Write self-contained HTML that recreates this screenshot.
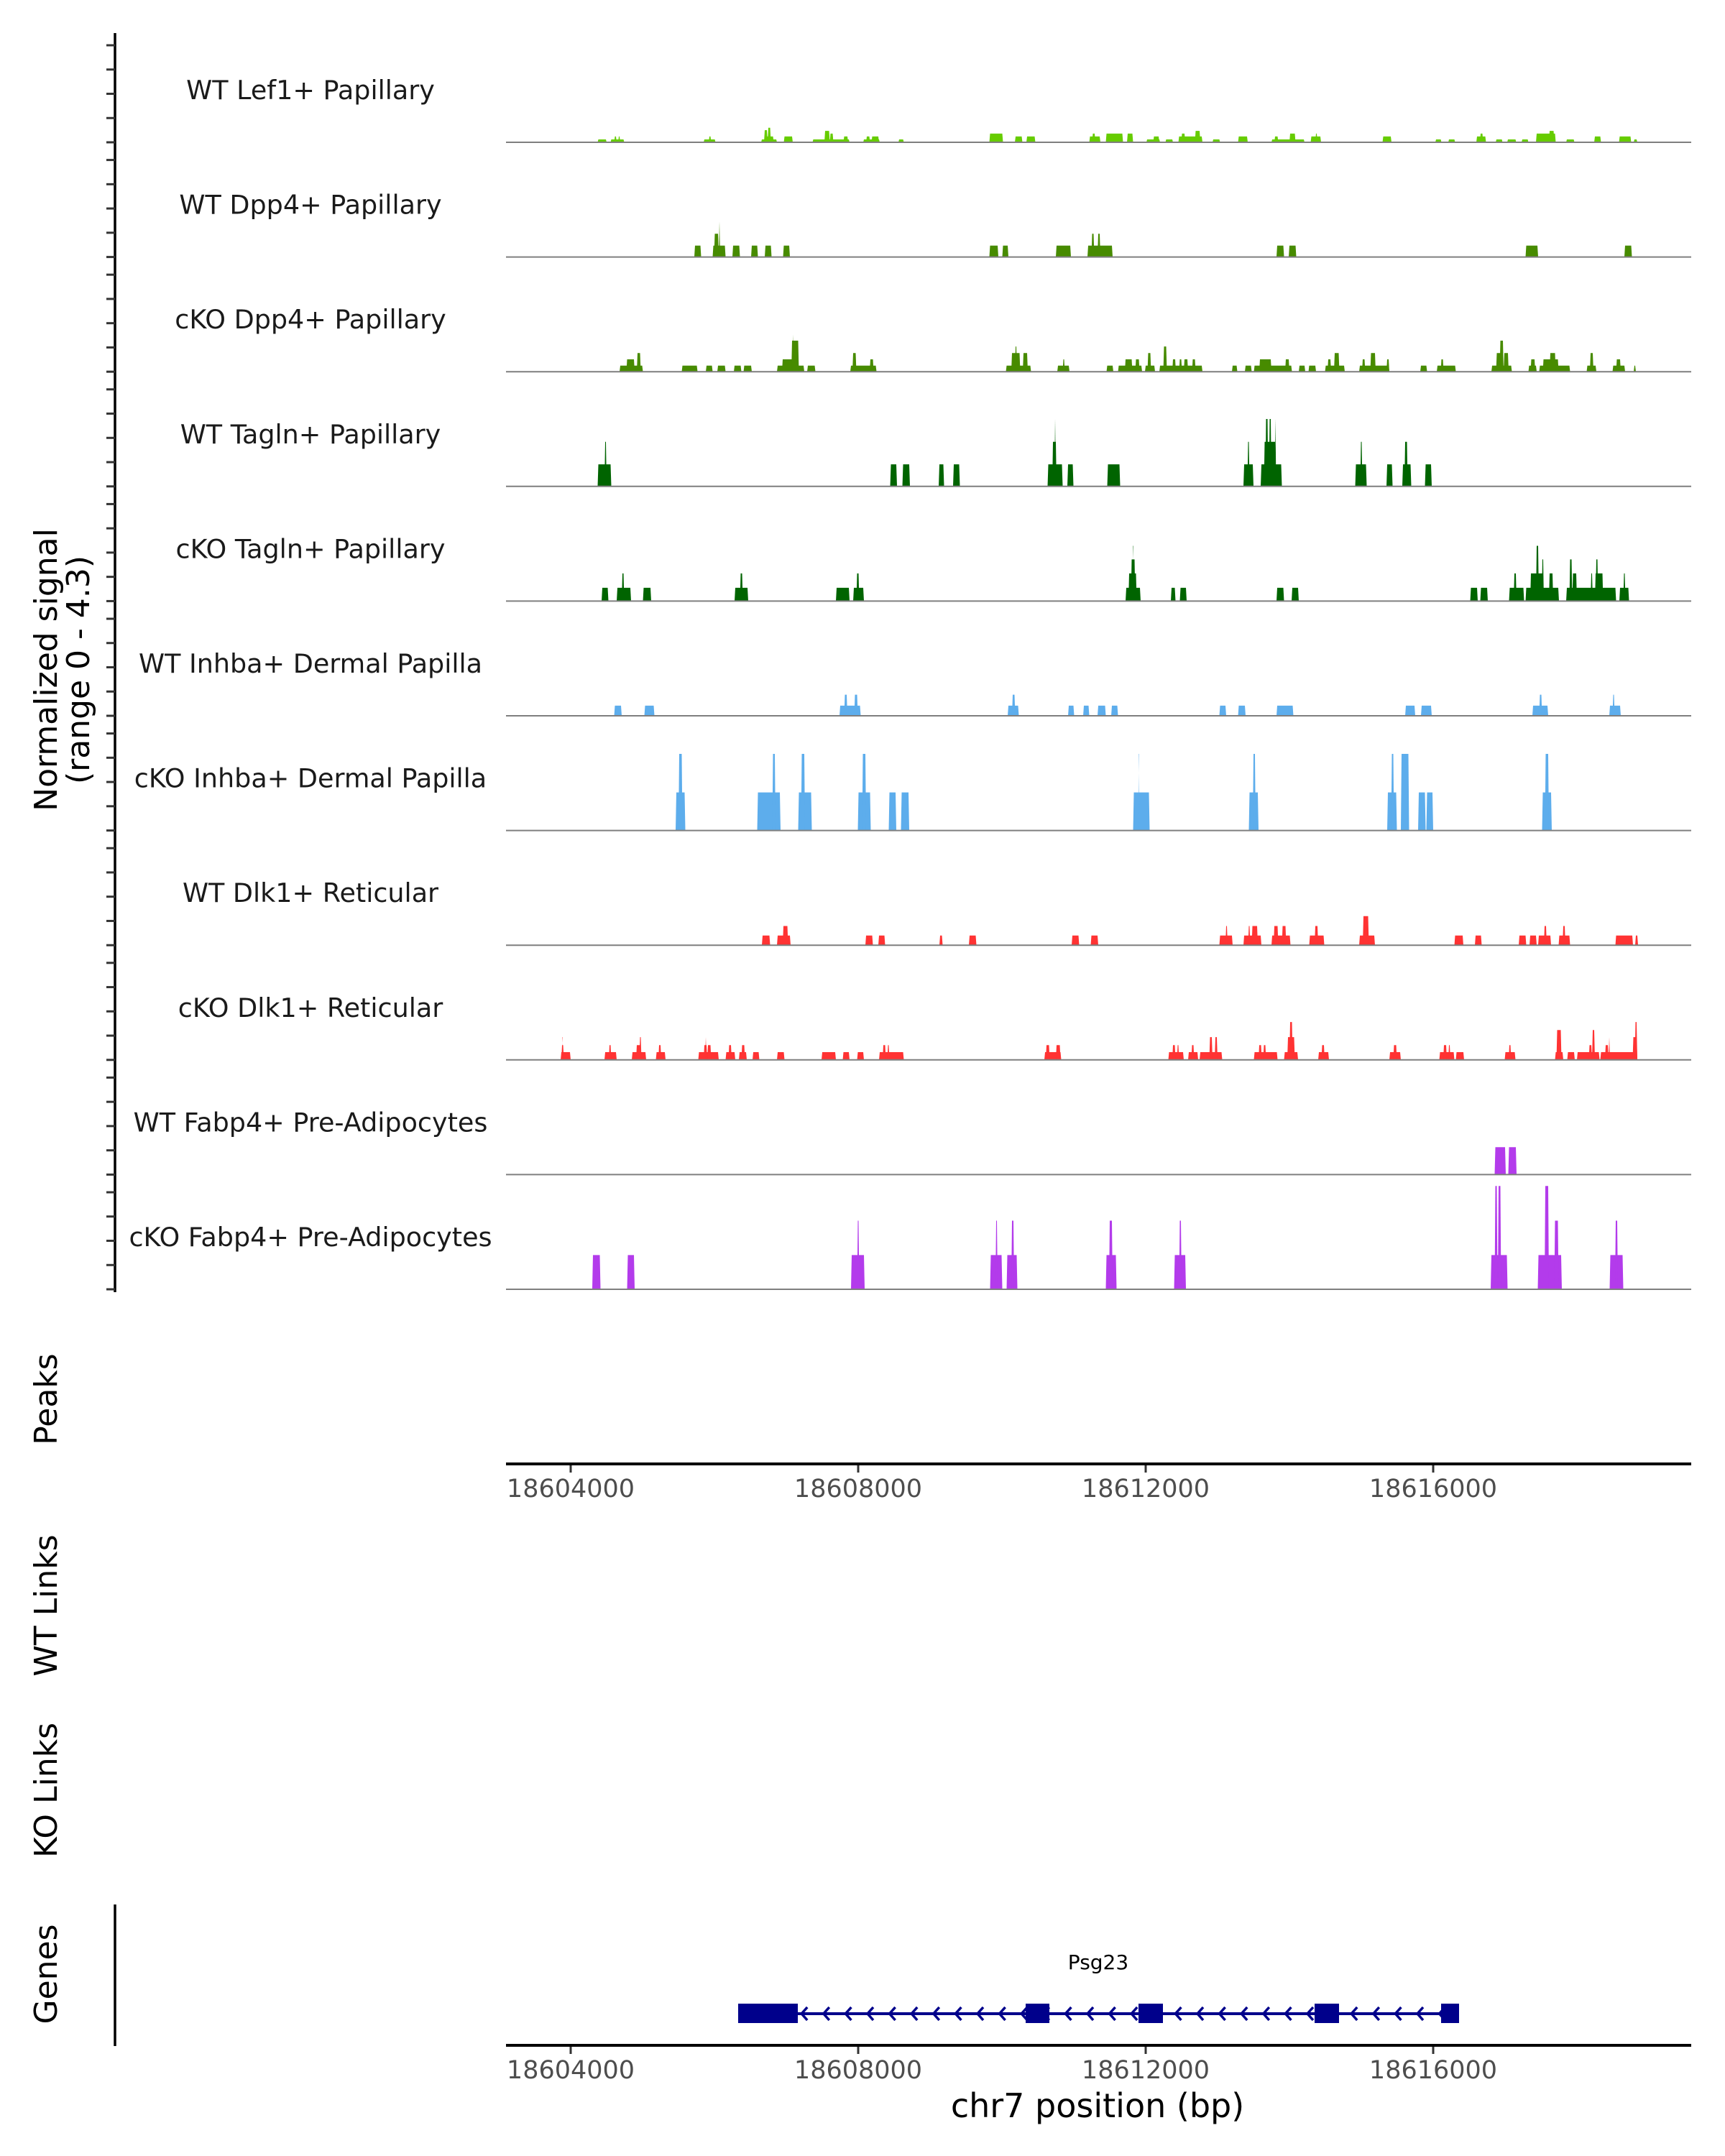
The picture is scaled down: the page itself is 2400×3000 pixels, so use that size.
<!DOCTYPE html>
<html><head><meta charset="utf-8">
<style>
html,body{margin:0;padding:0;background:#fff;}
svg{display:block;font-family:"DejaVu Sans","Liberation Sans",sans-serif;}
</style></head>
<body>
<svg id="chart" xmlns="http://www.w3.org/2000/svg" width="2400" height="3000" viewBox="0 0 2400 3000">
<rect width="2400" height="3000" fill="#fff"/>
<g id="tracks"></g>
<g id="yaxis">
  <line x1="160" y1="46" x2="160" y2="1798" stroke="#000" stroke-width="3.5"/>
</g>
<text transform="translate(79,932) rotate(-90)" text-anchor="middle" font-size="44" fill="#000">Normalized signal</text>
<text transform="translate(124,932) rotate(-90)" text-anchor="middle" font-size="44" fill="#000">(range 0 - 4.3)</text>
<text transform="translate(79,1947) rotate(-90)" text-anchor="middle" font-size="44" fill="#000">Peaks</text>
<text transform="translate(79,2234) rotate(-90)" text-anchor="middle" font-size="44" fill="#000">WT Links</text>
<text transform="translate(79,2491) rotate(-90)" text-anchor="middle" font-size="44" fill="#000">KO Links</text>
<text transform="translate(79,2747) rotate(-90)" text-anchor="middle" font-size="44" fill="#000">Genes</text>
<line x1="160" y1="2650" x2="160" y2="2847" stroke="#000" stroke-width="3.5"/>
<g id="xaxis1"></g>
<g id="xaxis2"></g>
<g id="gene"></g>
<text x="1527" y="2946" text-anchor="middle" font-size="46" fill="#000">chr7 position (bp)</text>
</svg>
<script>
// ---- data (bp positions, normalized signal) ----
const xTicks = [18604000, 18608000, 18612000, 18616000];
const xTickLabels = ["18604000","18608000","18612000","18616000"];
const trackNames = ["WT Lef1+ Papillary","WT Dpp4+ Papillary","cKO Dpp4+ Papillary","WT Tagln+ Papillary","cKO Tagln+ Papillary","WT Inhba+ Dermal Papilla","cKO Inhba+ Dermal Papilla","WT Dlk1+ Reticular","cKO Dlk1+ Reticular","WT Fabp4+ Pre-Adipocytes","cKO Fabp4+ Pre-Adipocytes"];
const trackColors = ["#66cc00","#478b00","#478b00","#006400","#006400","#5dadec","#5dadec","#ff3333","#ff3333","#b33beb","#b33beb"];
const yTicks = [0,1,2,3,4];
// each segment: [start offset from 18600000, end offset, value]
const sigLef1WT = [[4375,4500,.12],[4555,4745,.12],[4605,4640,.24],[4660,4690,.24],[5850,6015,.12],[5920,5955,.24],[6650,6870,.12],[6690,6825,.24],[6690,6740,.5],[6740,6785,.6],[6965,7090,.24],[7365,7880,.12],[7530,7605,.47],[7605,7655,.36],[7795,7860,.24],[8070,8300,.12],[8110,8165,.24],[8185,8290,.24],[8560,8635,.12],[9825,10015,.36],[10180,10285,.24],[10340,10465,.24],[11215,11370,.24],[11255,11300,.36],[11445,11685,.36],[11740,11825,.36],[12010,12200,.12],[12105,12190,.24],[12275,12380,.12],[12455,12790,.24],[12495,12550,.36],[12685,12760,.47],[12930,13035,.12],[13285,13420,.24],[13750,14210,.12],[13790,13845,.24],[14000,14085,.36],[14295,14440,.24],[14360,14390,.36],[15295,15420,.24],[16030,16115,.12],[16210,16305,.12],[16600,16735,.24],[16650,16695,.36],[16870,16965,.12],[17030,17155,.12],[17230,17325,.12],[17430,17705,.36],[17610,17685,.47],[17850,17965,.12],[18240,18335,.24],[18585,18755,.24],[18790,18840,.12]];
const sigDpp4WT = [[5720,5815,.47],[5975,6155,.47],[5995,6060,.96],[6060,6080,1.45],[6250,6355,.47],[6510,6605,.47],[6700,6795,.47],[6955,7050,.47],[9825,9950,.47],[10005,10090,.47],[10750,10960,.47],[11190,11540,.47],[11245,11285,.96],[11330,11370,.96],[13820,13925,.47],[13990,14095,.47],[17285,17460,.47],[18660,18765,.47]];
const sigDpp4KO = [[4680,5005,.25],[4775,4890,.51],[4920,4975,.77],[5545,5765,.25],[5880,5975,.25],[6040,6155,.25],[6270,6375,.25],[6405,6520,.25],[6870,7250,.25],[6940,7165,.51],[7070,7175,1.28],[7085,7105,1.53],[7290,7405,.25],[7890,8255,.25],[7920,7975,.77],[8160,8215,.51],[10055,10405,.25],[10130,10255,.77],[10180,10210,1.04],[10290,10360,.77],[10770,10940,.25],[10845,10875,.51],[11455,11550,.25],[11615,11950,.25],[11710,11815,.51],[11855,11915,.51],[11990,12130,.25],[12025,12075,.77],[12190,12790,.25],[12245,12295,1.04],[12370,12420,.51],[12465,12505,.51],[12530,12590,.51],[12645,12695,.51],[13200,13275,.25],[13380,13475,.25],[13505,14035,.25],[13580,13750,.51],[13940,14000,.51],[14130,14220,.25],[14265,14370,.25],[14495,14770,.25],[14530,14580,.51],[14620,14695,.77],[14970,15390,.25],[15010,15055,.51],[15125,15200,.77],[15350,15390,.51],[15820,15915,.25],[16050,16315,.25],[16105,16145,.51],[16810,17095,.25],[16875,16950,.77],[16925,16980,1.28],[16980,17050,.77],[17325,17440,.25],[17355,17420,.51],[17475,17905,.25],[17525,17745,.51],[17620,17705,.77],[18135,18270,.25],[18180,18230,.77],[18495,18670,.25],[18545,18610,.51],[18790,18820,.25]];
const sigTaglnWT = [[4375,4565,.91],[4470,4500,1.84],[8445,8540,.91],[8615,8720,.91],[9120,9195,.91],[9320,9415,.91],[10635,10845,.91],[10700,10760,1.84],[10730,10750,2.78],[10910,10995,.91],[11465,11645,.91],[13360,13500,.91],[13415,13445,1.84],[13600,13895,.91],[13645,13810,1.84],[13665,13705,2.78],[13715,13750,2.78],[13795,13815,2.78],[14915,15075,.91],[14985,15015,1.84],[15350,15435,.91],[15570,15695,.91],[15600,15645,1.84],[15885,15980,.91]];
const sigTaglnKO = [[4430,4525,.55],[4640,4840,.55],[4710,4745,1.14],[5005,5120,.55],[6280,6470,.55],[6355,6395,1.14],[7690,7880,.55],[7930,8080,.55],[7975,8015,1.14],[11720,11930,.55],[11760,11875,1.14],[11795,11855,1.72],[11815,11830,2.28],[12350,12415,.55],[12475,12570,.55],[13820,13925,.55],[14030,14130,.55],[16515,16620,.55],[16655,16760,.55],[17055,17265,.55],[17120,17160,1.14],[17285,17750,.55],[17350,17540,1.14],[17430,17470,2.28],[17510,17540,1.72],[17610,17670,1.14],[17850,18545,.55],[17895,17935,1.72],[17935,18000,1.14],[18190,18220,1.14],[18250,18365,1.14],[18260,18295,1.72],[18590,18725,.55],[18645,18675,1.14]];
const sigInhbaWT = [[4605,4710,.42],[5025,5165,.42],[7740,8035,.42],[7805,7850,.87],[7945,7995,.87],[10080,10235,.42],[10140,10185,.87],[10920,11005,.42],[11130,11215,.42],[11330,11445,.42],[11520,11615,.42],[13025,13120,.42],[13285,13390,.42],[13820,14055,.42],[15610,15750,.42],[15830,15980,.42],[17380,17600,.42],[17475,17515,.87],[18450,18610,.42],[18495,18525,.87]];
const sigInhbaKO = [[5460,5595,1.57],[5500,5555,3.16],[6595,6920,1.57],[6805,6850,3.16],[7165,7355,1.57],[7205,7260,3.16],[7995,8175,1.57],[8055,8110,3.16],[8425,8530,1.57],[8595,8710,1.57],[11825,12055,1.57],[11900,11915,3.16],[13435,13570,1.57],[13490,13530,3.16],[15360,15495,1.57],[15415,15455,3.16],[15550,15665,3.16],[15790,15895,1.57],[15905,16000,1.57],[17515,17650,1.57],[17555,17610,3.16]];
const sigDlk1WT = [[6660,6775,.4],[6870,7060,.4],[6950,7025,.79],[8100,8205,.4],[8280,8375,.4],[9130,9175,.4],[9540,9645,.4],[10970,11075,.4],[11235,11340,.4],[13025,13210,.4],[13110,13140,.79],[13360,13610,.4],[13425,13455,.79],[13475,13560,.79],[13750,14015,.4],[13780,13845,.79],[13895,13955,.79],[14275,14485,.4],[14350,14400,.79],[14970,15190,.4],[15020,15105,1.2],[16295,16420,.4],[16580,16675,.4],[17190,17295,.4],[17340,17440,.4],[17460,17640,.4],[17540,17580,.79],[17745,17905,.4],[17800,17840,.79],[18535,18780,.4],[18810,18850,.4]];
const sigDlk1KO = [[3860,4000,.32],[3870,3905,.61],[3880,3895,.94],[4470,4640,.32],[4530,4565,.61],[4850,5050,.32],[4910,4975,.61],[4955,4985,.94],[5185,5320,.32],[5220,5260,.61],[5775,6060,.32],[5850,5900,.61],[5870,5890,.94],[5900,5955,.61],[6155,6290,.32],[6195,6240,.61],[6340,6450,.32],[6375,6425,.61],[6530,6625,.32],[6870,6975,.32],[7490,7690,.32],[7785,7880,.32],[7985,8080,.32],[8290,8635,.32],[8340,8385,.61],[8405,8435,.61],[10590,10825,.32],[10610,10665,.61],[10750,10815,.61],[12315,12530,.32],[12370,12415,.61],[12435,12465,.61],[12590,12730,.32],[12635,12675,.61],[12750,13065,.32],[12885,12930,.94],[12960,13000,.94],[13505,13835,.32],[13570,13615,.61],[13635,13675,.61],[13925,14120,.32],[13970,14075,.94],[14000,14045,1.56],[14400,14550,.32],[14445,14490,.61],[15390,15550,.32],[15445,15495,.61],[16085,16295,.32],[16140,16190,.61],[16210,16240,.61],[16315,16430,.32],[16995,17145,.32],[17050,17085,.61],[17695,17810,.32],[17715,17785,1.23],[17865,17970,.32],[18000,18315,.32],[18165,18210,.61],[18210,18250,1.23],[18325,18840,.32],[18390,18440,.61],[18440,18460,.94],[18775,18840,.94],[18805,18840,1.56]];
const sigFabp4WT = [[16855,17010,1.13],[17045,17160,1.13]];
const sigFabp4KO = [[4300,4415,1.41],[4785,4890,1.41],[7900,8090,1.41],[7985,8015,2.83],[9835,10005,1.41],[9910,9940,2.83],[10065,10215,1.41],[10130,10170,2.83],[11445,11595,1.41],[11490,11540,2.83],[12395,12560,1.41],[12465,12500,2.83],[16800,17035,1.41],[16855,16895,4.26],[16900,16945,4.26],[17455,17790,1.41],[17550,17610,4.26],[17685,17745,2.83],[18455,18645,1.41],[18530,18570,2.83]];
const signals = [sigLef1WT,sigDpp4WT,sigDpp4KO,sigTaglnWT,sigTaglnKO,sigInhbaWT,sigInhbaKO,sigDlk1WT,sigDlk1KO,sigFabp4WT,sigFabp4KO];
const exons = [[18606330,18607160],[18610330,18610660],[18611900,18612240],[18614350,18614690],[18616110,18616360]];
const geneName = "Psg23";
const geneStart = 18606330, geneEnd = 18616360;

// ---- scales ----
const BASE_BP = 18600000;
const X0 = 704, X1 = 2353;
function xScale(bp){ return 794 + (bp - 18604000) * 0.1; }
const TRACK0 = 198, TRACK_STEP = 159.6, UNIT = 33.75;
function yScale(i, v){ return TRACK0 + i*TRACK_STEP - v*UNIT; }

const NS = "http://www.w3.org/2000/svg";
function mk(tag, attrs, parent){ const e=document.createElementNS(NS,tag); for(const k in attrs) e.setAttribute(k,attrs[k]); parent.appendChild(e); return e; }

const tracks = document.getElementById('tracks');
const yaxis = document.getElementById('yaxis');
signals.forEach((sig, i) => {
  const g = mk('g', {}, tracks);
  
  
  const lbl = mk('text', {x:432, y: yScale(i,0) - 60, 'text-anchor':'middle', 'font-size':36.5, fill:'#1a1a1a'}, g);
  
  
  lbl.textContent = trackNames[i];
  sig.forEach(s => {
    const xa = xScale(BASE_BP + s[0]), xb = xScale(BASE_BP + s[1]);
    const y0 = yScale(i,0), y1 = yScale(i,s[2]);
    const r = mk('polygon', {points: `${xa},${y0} ${xa+1},${y1} ${xb-1},${y1} ${xb},${y0}`, fill: trackColors[i]}, g);
    
    
  });
  const bl = mk('line', {x1:X0, x2:X1, y1:yScale(i,0), y2:yScale(i,0), stroke:'#7f7f7f', 'stroke-width':2}, g);
  
  
  yTicks.forEach(t => {
    const tk = mk('line', {x1:148, x2:160, y1:yScale(i,t), y2:yScale(i,t), stroke:'#333', 'stroke-width':3}, yaxis);
    
    
  });
});

function drawXAxis(id, y){
  const g = document.getElementById(id);
  const ln = mk('line', {x1:X0, x2:X1, y1:y, y2:y, stroke:'#000', 'stroke-width':4}, g);
  
  
  xTicks.forEach((t, k) => {
    const x = xScale(t);
    const tk = mk('line', {x1:x, x2:x, y1:y+2, y2:y+12, stroke:'#333', 'stroke-width':3}, g);
    
    
    const tl = mk('text', {x:x, y:y+46, 'text-anchor':'middle', 'font-size':35, fill:'#4d4d4d'}, g);
    
    
    tl.textContent = xTickLabels[k];
  });
}
drawXAxis('xaxis1', 2037);
drawXAxis('xaxis2', 2846);

// gene model
const gg = document.getElementById('gene');
const GY = 2802;
const gl = mk('line', {x1:xScale(geneStart), x2:xScale(geneEnd), y1:GY, y2:GY, stroke:'#00008b', 'stroke-width':4}, gg);


for (let bp = geneStart + 270; bp < geneEnd; bp += 306) {
  const x = xScale(bp);
  const c = mk('path', {d:`M${x+8},${GY-9} L${x},${GY} L${x+8},${GY+9}`, fill:'none', stroke:'#00008b', 'stroke-width':3.5}, gg);
  
  
}
exons.forEach(e => {
  const xa = xScale(e[0]), xb = xScale(e[1]);
  const r = mk('rect', {x:xa, y:GY-14, width:xb-xa, height:27, fill:'#00008b'}, gg);
  
  
});
const gt = mk('text', {x:1528, y:2740, 'text-anchor':'middle', 'font-size':28, fill:'#000'}, gg);


gt.textContent = geneName;
</script>
</body></html>
